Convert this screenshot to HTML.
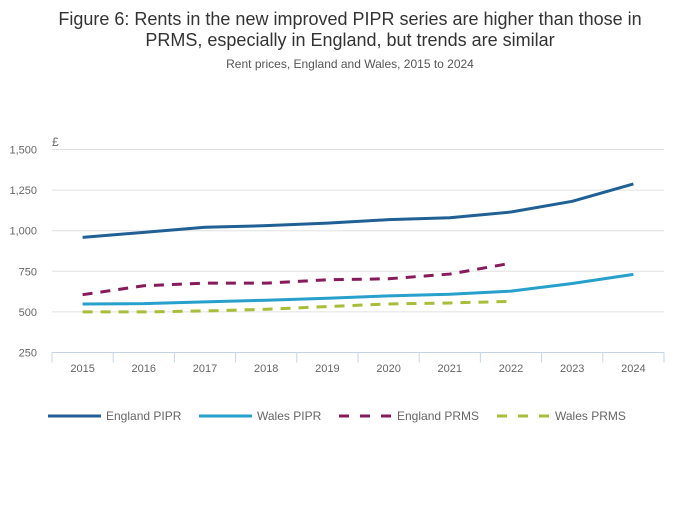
<!DOCTYPE html>
<html><head><meta charset="utf-8"><style>
body{margin:0;background:#fff;font-family:"Liberation Sans",sans-serif;}
svg text{font-family:"Liberation Sans",sans-serif;}
</style></head><body>
<svg width="700" height="502">
<text x="350" y="25" text-anchor="middle" font-size="18" fill="#333">Figure 6: Rents in the new improved PIPR series are higher than those in</text>
<text x="350" y="46" text-anchor="middle" font-size="18" fill="#333">PRMS, especially in England, but trends are similar</text>
<text x="350" y="68" text-anchor="middle" font-size="12" fill="#555">Rent prices, England and Wales, 2015 to 2024</text>
<text x="52" y="146" font-size="12" fill="#666">£</text>
<g id="grid"></g><g id="series"></g><g id="legend"></g>
</svg>
<script>
const years=["2015","2016","2017","2018","2019","2020","2021","2022","2023","2024"];
const yTicks=[250,500,750,1000,1250,1500];
const englandPIPR=[959,990,1021,1031,1047,1068,1080,1115,1181,1288];
const walesPIPR=[549,551,562,572,584,599,609,628,675,731];
const englandPRMS=[606,661,677,677,698,704,733,800];
const walesPRMS=[500,500,506,516,533,549,555,565];
const NS="http://www.w3.org/2000/svg";
const L=52,R=664,T=149.5,B=352.5;
const step=(R-L)/years.length;
const xs=i=>L+step*(i+0.5);
const ys=v=>B-(v-250)/(1500-250)*(B-T);
function mk(tag,at,parent){const e=document.createElementNS(NS,tag);for(const k in at)e.setAttribute(k,at[k]);parent.appendChild(e);return e;}
const grid=document.getElementById('grid');
yTicks.forEach(v=>{
  if(v>250){const g=mk('line',{x1:L,x2:R,y1:ys(v),y2:ys(v),stroke:'#e0e0e0','stroke-width':1},grid);
  
  }
  const t=mk('text',{x:37,y:ys(v)+4,'text-anchor':'end','font-size':11,fill:'#666'},grid);t.textContent=v.toLocaleString('en-GB');
  
  
});
const ax=mk('line',{x1:L,x2:R,y1:B,y2:B,stroke:'#c5d3e6','stroke-width':1},grid);


for(let i=0;i<=years.length;i++){const tk=mk('line',{x1:L+step*i,x2:L+step*i,y1:B,y2:B+10,stroke:'#c5d3e6'},grid);

}
years.forEach((y,i)=>{const t=mk('text',{x:xs(i),y:372,'text-anchor':'middle','font-size':11,fill:'#666'},grid);t.textContent=y;

});
const ser=document.getElementById('series');
const defs=[["England PIPR",englandPIPR,'#206095',null],["Wales PIPR",walesPIPR,'#27a0cc',null],["England PRMS",englandPRMS,'#871a5b','10,8'],["Wales PRMS",walesPRMS,'#a8bd3a','10,8']];
defs.forEach(d=>{
  const p=mk('polyline',{points:d[1].map((v,i)=>xs(i)+','+ys(v)).join(' '),fill:'none',stroke:d[2],'stroke-width':3,'stroke-linejoin':'round'},ser);
  if(d[3])p.setAttribute('stroke-dasharray',d[3]);
  
  
});
const lg=document.getElementById('legend');
const lx=[48,199,339,497];
defs.forEach((d,i)=>{
  const l=mk('line',{x1:lx[i],x2:lx[i]+53,y1:416,y2:416,stroke:d[2],'stroke-width':3},lg);
  if(d[3])l.setAttribute('stroke-dasharray','10,11');
  
  
  const t=mk('text',{x:lx[i]+58,y:420,'font-size':12,fill:'#666'},lg);t.textContent=d[0];
  
  
});
</script>
</body></html>
